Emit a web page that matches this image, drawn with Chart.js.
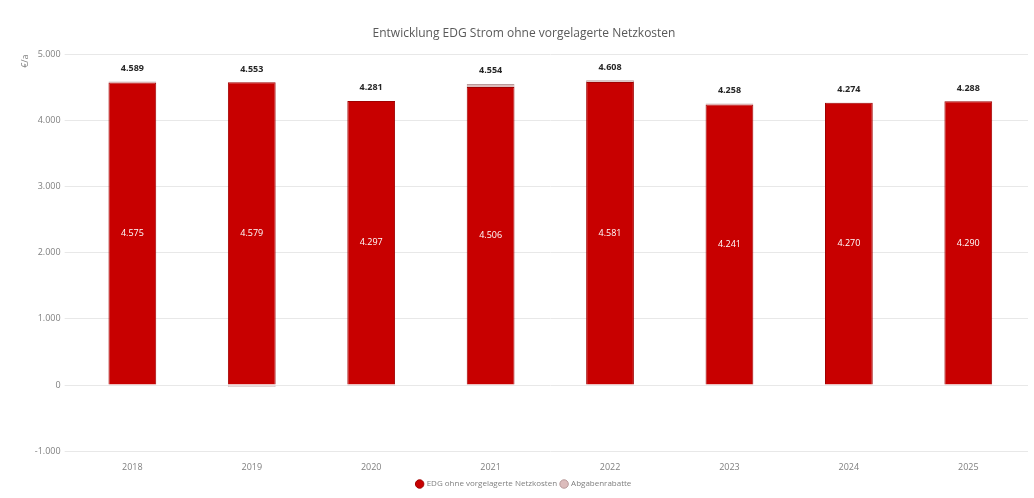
<!DOCTYPE html>
<html>
<head>
<meta charset="utf-8">
<script src="https://cdn.jsdelivr.net/npm/chart.js@4/dist/chart.umd.min.js"></script>
<style>
    html, body { margin: 0; padding: 0; background: #ffffff; }
    #wrap { width: 1034px; height: 498px; }
</style>
</head>
<body>
<div id="wrap"><canvas id="edg-chart"></canvas></div>
<script>
// DATA  -----------------------------------------------------------------------
const years = ['2018', '2019', '2020', '2021', '2022', '2023', '2024', '2025'];
const edgValues = [4575, 4579, 4297, 4506, 4581, 4241, 4270, 4290];
const rebateValues = [14, -26, -16, 48, 27, 17, 4, -2];
const yTicks = [-1000, 0, 1000, 2000, 3000, 4000, 5000];

const seriesNames = ['EDG ohne vorgelagerte Netzkosten', 'Abgabenrabatte'];
const chartTitle = 'Entwicklung EDG Strom ohne vorgelagerte Netzkosten';

// Format numbers the german way (4.589)
function fmt(v) {
    const s = Math.round(Math.abs(v)).toString().replace(/\B(?=(\d{3})+(?!\d))/g, '.');
    return (v < 0 ? '-' : '') + s;
}

// Draws inner labels and the stack totals
const valueLabels = {
    id: 'valueLabels',
    afterDatasetsDraw(chart) {
        const ctx = chart.ctx;
        const base = chart.getDatasetMeta(0);
        const top = chart.getDatasetMeta(1);
        ctx.save();
        ctx.textAlign = 'center';
        ctx.textBaseline = 'middle';
        base.data.forEach((bar, i) => {
            ctx.font = '9px "Open Sans", sans-serif';
            ctx.fillStyle = '#ffffff';
            ctx.fillText(fmt(edgValues[i]), bar.x, (bar.y + bar.base) / 2);

            const total = edgValues[i] + rebateValues[i];
            const topY = Math.min(bar.y, top.data[i].y, top.data[i].base);
            ctx.font = 'bold 9px "Open Sans", sans-serif';
            ctx.fillStyle = '#262626';
            ctx.fillText(fmt(total), bar.x, topY - 13);
        });
        ctx.restore();
    }
};

new Chart(document.getElementById('edg-chart'), {
    type: 'bar',
    data: {
        labels: years,
        datasets: [{
            label: seriesNames[0],
            data: edgValues,
            backgroundColor: '#c80000',
            borderColor: '#a00000',
            borderWidth: 1,
            barPercentage: 0.4,
            categoryPercentage: 1.0
        }, {
            label: seriesNames[1],
            data: rebateValues,
            backgroundColor: '#dcbcbc',
            borderColor: '#b89a9a',
            borderWidth: 1,
            barPercentage: 0.4,
            categoryPercentage: 1.0
        }]
    },
    options: {
        responsive: true,
        maintainAspectRatio: false,
        animation: false,
        layout: { padding: { left: 20, right: 6, top: 6, bottom: 0 } },
        scales: {
            x: {
                stacked: true,
                grid: { display: false },
                border: { display: false },
                ticks: {
                    color: '#7f7f7f',
                    font: { family: 'Open Sans', size: 9 },
                    padding: 3
                }
            },
            y: {
                stacked: true,
                min: -1000,
                max: 5000,
                afterBuildTicks(axis) {
                    axis.ticks = yTicks.map(v => ({ value: v }));
                },
                grid: { color: '#e8e8e8' },
                border: { display: false },
                ticks: {
                    color: '#7f7f7f',
                    font: { family: 'Open Sans', size: 9 },
                    padding: 4,
                    callback: v => fmt(v)
                },
                title: {
                    display: true,
                    text: '€/a',
                    align: 'end',
                    color: '#7f7f7f',
                    font: { family: 'Open Sans', size: 9 },
                    padding: { top: 0, bottom: 0 }
                }
            }
        },
        plugins: {
            title: {
                display: true,
                text: chartTitle,
                color: '#595959',
                font: { family: 'Open Sans', size: 12, weight: 'normal' },
                padding: { top: 20, bottom: 14 }
            },
            legend: {
                position: 'bottom',
                labels: {
                    usePointStyle: true,
                    pointStyle: 'circle',
                    boxWidth: 6,
                    boxHeight: 6,
                    padding: 4,
                    color: '#7f7f7f',
                    font: { family: 'Open Sans', size: 8 }
                }
            },
            tooltip: { enabled: false }
        }
    },
    plugins: [valueLabels]
});
</script>
</body>
</html>
